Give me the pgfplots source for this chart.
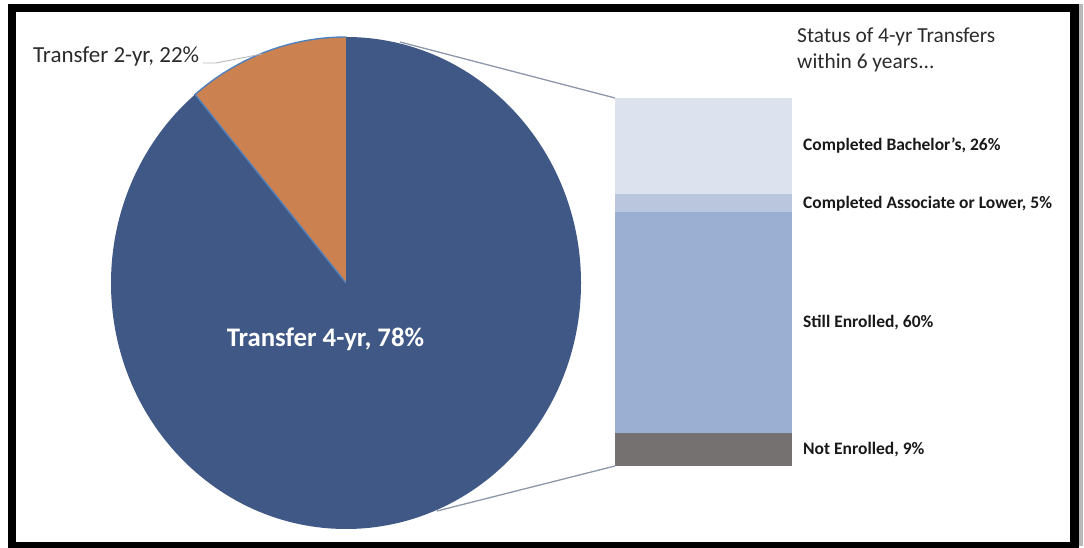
\documentclass[border=0pt]{standalone}
\usepackage{pgfplots}
\pgfplotsset{compat=1.18}
\usepackage{fontspec}
\setmainfont{Carlito}
\definecolor{pieblue}{HTML}{3F5885}
\definecolor{pieorange}{HTML}{CC8250}
\definecolor{edgeblue}{HTML}{4F81BD}
\definecolor{barA}{HTML}{DCE2EE}
\definecolor{barB}{HTML}{B9C6DE}
\definecolor{barC}{HTML}{9AAFD1}
\definecolor{barD}{HTML}{767171}
\definecolor{conn}{HTML}{8C97AA}
\definecolor{txt}{HTML}{2B2B2B}

% pie: share of the circle as drawn (percent) for the 4-yr slice
\def\shareFour{88.9}

\begin{document}
\begin{tikzpicture}
\begin{axis}[
  x=1pt, y=1pt, xmin=0, xmax=1084, ymin=0, ymax=548,
  hide axis, clip=false, anchor=origin, at={(0pt,0pt)}]
  % frame shadow and frame
  \fill[gray!55] (axis cs:1078,2) rectangle (axis cs:1083,544);
  \draw[black, line width=8.5pt] (axis cs:12,-4) -- (axis cs:12,540) -- (axis cs:1074.5,540) -- (axis cs:1074.5,-4);
  \draw[black, line width=8.5pt] (axis cs:12,1.5) -- (axis cs:1074.5,1.5);
  % pie
  \fill[pieblue] (axis cs:346,265) -- (axis cs:346,511) arc[start angle=90, end angle={90-3.6*\shareFour}, x radius=235pt, y radius=246pt] -- cycle;
  \filldraw[fill=pieorange, draw=edgeblue, line width=1.4pt] (axis cs:346,265) -- (axis cs:{346+235*cos(450-3.6*\shareFour)},{265+246*sin(450-3.6*\shareFour)}) arc[start angle={450-3.6*\shareFour}, end angle=90, x radius=235pt, y radius=246pt];
  \draw[pieblue, line width=1pt] (axis cs:346,265) -- (axis cs:346,510);
  % connectors
  \draw[conn, line width=1.3pt] (axis cs:400,506) -- (axis cs:615,450);
  \draw[conn, line width=1.3pt] (axis cs:437,37) -- (axis cs:615,82);
  % leader for 2-yr label
  \draw[gray!55, line width=0.9pt] (axis cs:203,485) -- (axis cs:216,485) -- (axis cs:262,494);
  % labels
  \node[anchor=base west, font=\fontsize{23}{26}\selectfont, text=txt, inner sep=0pt] at (axis cs:33,485) {Transfer 2-yr, 22\%};
  \node[anchor=base, font=\fontsize{26.8}{30}\bfseries\selectfont, text=white, inner sep=0pt] at (axis cs:325.5,201) {Transfer 4-yr, 78\%};
  \node[anchor=base west, align=left, font=\fontsize{21.4}{26}\selectfont, text=txt, inner sep=0pt] at (axis cs:797,479) {Status of 4-yr Transfers\\within 6 years...};
\end{axis}
\begin{axis}[
  at={(615pt,82pt)}, anchor=south west,
  width=177pt, height=368pt, scale only axis,
  xmin=-0.5, xmax=0.5, ymin=0, ymax=100,
  hide axis, clip=false,
  ybar stacked, bar width=177pt]
  \addplot[fill=barD, draw=none] coordinates {(0,9)};
  \addplot[fill=barC, draw=none] coordinates {(0,60)};
  \addplot[fill=barB, draw=none] coordinates {(0,5)};
  \addplot[fill=barA, draw=none] coordinates {(0,26)};
  \node[anchor=west, inner sep=0pt, font=\fontsize{17.5}{20}\bfseries\selectfont, text=black!90, xshift=11pt] at (axis cs:0.5,4.5) {Not Enrolled, 9\%};
  \node[anchor=west, inner sep=0pt, font=\fontsize{17.5}{20}\bfseries\selectfont, text=black!90, xshift=11pt] at (axis cs:0.5,39) {Still Enrolled, 60\%};
  \node[anchor=west, inner sep=0pt, font=\fontsize{17.5}{20}\bfseries\selectfont, text=black!90, xshift=11pt, yshift=-1pt] at (axis cs:0.5,71.5) {Completed Associate or Lower, 5\%};
  \node[anchor=west, inner sep=0pt, font=\fontsize{17.5}{20}\bfseries\selectfont, text=black!90, xshift=11pt] at (axis cs:0.5,87) {Completed Bachelor's, 26\%};
\end{axis}
\pgfresetboundingbox
\useasboundingbox (0,0) rectangle (1084pt,548pt);
\end{tikzpicture}
\end{document}
